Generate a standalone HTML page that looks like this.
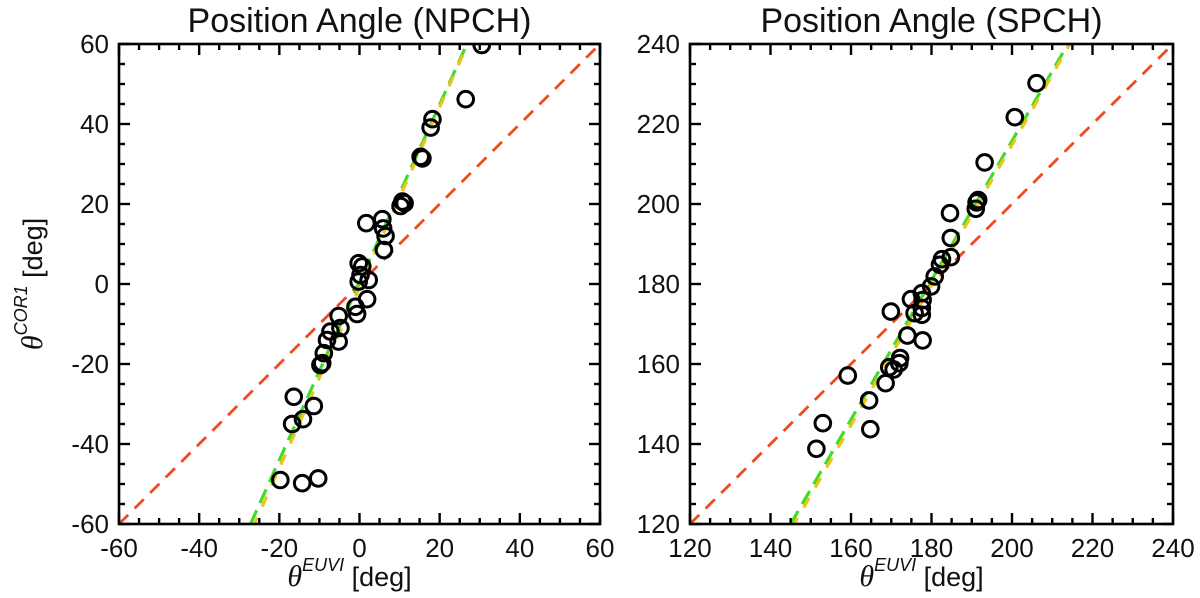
<!DOCTYPE html>
<html><head><meta charset="utf-8"><style>
body{margin:0;background:#fff;width:1200px;height:593px;overflow:hidden}
svg{font-family:"Liberation Sans",Helvetica,Arial,sans-serif}
</style></head><body>
<svg id="chart" width="1200" height="593" viewBox="0 0 1200 593" xmlns="http://www.w3.org/2000/svg"></svg>
<script>
const npchTicks=[-60,-40,-20,0,20,40,60];
const spchTicks=[120,140,160,180,200,220,240];
const npchX=[30.5,26.5,18.2,17.75,15.25,15.7,10.7,11.25,10.25,1.7,5.7,5.9,6.5,6.1,-0.2,0.7,0.25,-0.2,2.3,1.9,-1,-0.6,-5.2,-4.75,-7.25,-8.1,-5.2,-8.9,-9.3,-9.75,-16.4,-11.4,-14.1,-16.8,-19.75,-14.3,-10.3];
const npchY=[59.75,46.2,41.2,39.1,31.8,31.4,20.6,20.2,19.5,15.2,16.2,13.9,12,8.5,5.2,4.4,2.25,0.6,1,-3.8,-5.7,-7.5,-8,-11,-11.9,-14,-14.4,-17.3,-19.8,-20.25,-28.2,-30.5,-33.8,-35,-49,-49.8,-48.6];
const npchGreen=[[-27.2,-60],[26.8,60]];
const npchYellow=[[-26.2,-60],[27.0,60]];
const spchX=[206.1,200.7,193.2,191.2,191.6,191,184.6,184.8,184.8,182.6,182.1,180.8,179.9,177.6,177.8,174.9,177.6,175.8,177.6,169.9,174,177.8,172.2,172,169.5,170.6,159.2,168.6,164.5,164.8,153,151.4];
const spchY=[230.2,221.7,210.4,200.4,201,198.8,197.7,191.5,186.7,186.2,184.8,181.9,179.4,177.7,176,176.2,174,172.7,172.3,173.1,167.1,165.9,161.5,160.2,159.2,158.6,157.1,155.2,150.9,143.7,145.2,138.8];
const spchGreen=[[145.0,120],[213.9,240]];
const spchYellow=[[145.9,120],[214.4,240]];

const NS="http://www.w3.org/2000/svg";
const svg=document.getElementById('chart');
function mk(tag,attrs,parent){const e=document.createElementNS(NS,tag);for(const k in attrs)e.setAttribute(k,attrs[k]);(parent||svg).appendChild(e);return e;}

function panel(key,x0,x1,y0,y1,min,max,ticks,xs,ys,green,yellow,title){
  const g=mk('g',{});
  
  
  const sx=v=>x0+(v-min)/(max-min)*(x1-x0);
  const sy=v=>y1-(v-min)/(max-min)*(y1-y0);
  const clip=mk('clipPath',{id:'clip-'+key},g);
  mk('rect',{x:x0,y:y0,width:x1-x0,height:y1-y0},clip);
  const plot=mk('g',{'clip-path':'url(#clip-'+key+')'},g);
  const diag=mk('line',{x1:sx(min),y1:sy(min),x2:sx(max),y2:sy(max),stroke:'#f04a1e','stroke-width':2.8,'stroke-dasharray':'13,9'},plot);
  
  
  const gl=mk('line',{x1:sx(green[0][0]),y1:sy(green[0][1]),x2:sx(green[1][0]),y2:sy(green[1][1]),stroke:'#3fdc2a','stroke-width':3.2,'stroke-dasharray':'15,8'},plot);
  
  
  const yl=mk('line',{x1:sx(yellow[0][0]),y1:sy(yellow[0][1]),x2:sx(yellow[1][0]),y2:sy(yellow[1][1]),stroke:'#f2c21a','stroke-width':3.2,'stroke-dasharray':'11,12','stroke-dashoffset':4},plot);
  
  
  for(let i=0;i<xs.length;i++){
    const c=mk('circle',{cx:sx(xs[i]),cy:sy(ys[i]),r:7.8,fill:'none',stroke:'#000','stroke-width':3},plot);
    
    
  }
  const frame=mk('rect',{x:x0,y:y0,width:x1-x0,height:y1-y0,fill:'none',stroke:'#000','stroke-width':2.6},g);
  
  
  for(let v=min;v<=max+0.001;v+=5){
    const major=Math.abs((v-min)%20)<0.001;
    const L=major?11:6;
    const X=sx(v),Y=sy(v);
    mk('line',{x1:X,y1:y1,x2:X,y2:y1-L,stroke:'#000','stroke-width':2.4},g);
    mk('line',{x1:X,y1:y0,x2:X,y2:y0+L,stroke:'#000','stroke-width':2.4},g);
    mk('line',{x1:x0,y1:Y,x2:x0+L,y2:Y,stroke:'#000','stroke-width':2.4},g);
    mk('line',{x1:x1,y1:Y,x2:x1-L,y2:Y,stroke:'#000','stroke-width':2.4},g);
  }
  ticks.forEach(t=>{
    const a=mk('text',{x:sx(t),y:y1+33,'text-anchor':'middle','font-size':26,fill:'#111'},g);
    a.textContent=t;
    
    
    const b=mk('text',{x:x0-10,y:sy(t)+9,'text-anchor':'end','font-size':26,fill:'#111'},g);
    b.textContent=t;
    
    
  });
  const tt=mk('text',{x:(x0+x1)/2,y:32,'text-anchor':'middle','font-size':34,fill:'#111'},g);
  tt.textContent=title;
  
  
  const xl=mk('text',{x:(x0+x1)/2-10,y:586,'text-anchor':'middle','font-size':27,fill:'#111'},g);
  xl.innerHTML='<tspan font-family="Liberation Serif,serif" font-style="italic" font-size="30">θ</tspan><tspan font-size="18" font-style="italic" dy="-15">EUVI</tspan><tspan dy="15"> [deg]</tspan>';
  
  
}
panel('npch',119,600,44,524,-60,60,npchTicks,npchX,npchY,npchGreen,npchYellow,'Position Angle (NPCH)');
panel('spch',690,1173,44,524,120,240,spchTicks,spchX,spchY,spchGreen,spchYellow,'Position Angle (SPCH)');
const yt=mk('text',{x:0,y:0,'text-anchor':'middle','font-size':27,fill:'#111',transform:'translate(42,284) rotate(-90)'});
yt.innerHTML='<tspan font-family="Liberation Serif,serif" font-style="italic" font-size="30">θ</tspan><tspan font-size="18" font-style="italic" dy="-15">COR1</tspan><tspan dy="15"> [deg]</tspan>';


</script>
</body></html>
